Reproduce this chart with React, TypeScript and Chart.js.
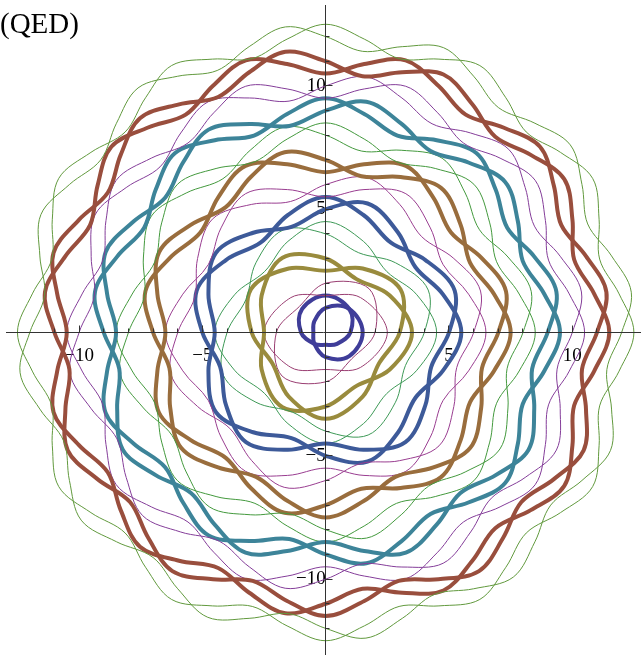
import React, { useEffect, useRef } from 'react';
import { Chart, registerables } from 'chart.js';

Chart.register(...registerables);

// ---- text ----
const TITLE = '(QED)';

// ---- axis ranges (units) and labelled ticks ----
const X_MIN = -12.964;
const X_MAX = 12.786;
const Y_MIN = -13.078;
const Y_MAX = 13.281;
const labelledTicks = [-10, -5, 5, 10];

// ---- orbit levels ----
const levels = [1, 2, 3, 4, 5, 6, 7, 8, 9, 10, 11, 12];

// radii read around each orbit, equally spaced in angle starting at +x, counter-clockwise
const r1a = [1.5, 1.35, 1, 0.65, 0.5, 0.65, 1, 1.35];
const r1b = [1, 1.35, 1.5, 1.35, 1, 0.65, 0.5, 0.65];
const r2a = [2.5, 2, 1.5, 2, 2.5, 2, 1.5, 2];
const r2b = [2, 2.5, 2, 1.5, 2, 2.5, 2, 1.5];
const r3a = [3.5, 3, 2.5, 3, 3.5, 3, 2.5, 3, 3.5, 3, 2.5, 3];
const r3b = [3, 3.5, 3, 2.5, 3, 3.5, 3, 2.5, 3, 3.5, 3, 2.5];
const r4a = [4.5, 4, 3.5, 4, 4.5, 4, 3.5, 4, 4.5, 4, 3.5, 4, 4.5, 4, 3.5, 4];
const r4b = [4, 4.5, 4, 3.5, 4, 4.5, 4, 3.5, 4, 4.5, 4, 3.5, 4, 4.5, 4, 3.5];
const r5a = [
  5.5, 5, 4.5, 5, 5.5, 5, 4.5, 5, 5.5, 5, 4.5, 5, 5.5, 5, 4.5, 5, 5.5, 5, 4.5, 5,
];
const r5b = [
  5, 5.5, 5, 4.5, 5, 5.5, 5, 4.5, 5, 5.5, 5, 4.5, 5, 5.5, 5, 4.5, 5, 5.5, 5, 4.5,
];
const r6a = [
  6.5, 6, 5.5, 6, 6.5, 6, 5.5, 6, 6.5, 6, 5.5, 6,
  6.5, 6, 5.5, 6, 6.5, 6, 5.5, 6, 6.5, 6, 5.5, 6,
];
const r6b = [
  6, 6.5, 6, 5.5, 6, 6.5, 6, 5.5, 6, 6.5, 6, 5.5,
  6, 6.5, 6, 5.5, 6, 6.5, 6, 5.5, 6, 6.5, 6, 5.5,
];
const r7a = [
  7.5, 7, 6.5, 7, 7.5, 7, 6.5, 7, 7.5, 7, 6.5, 7, 7.5, 7, 6.5, 7,
  7.5, 7, 6.5, 7, 7.5, 7, 6.5, 7, 7.5, 7, 6.5, 7,
];
const r7b = [
  7, 7.5, 7, 6.5, 7, 7.5, 7, 6.5, 7, 7.5, 7, 6.5, 7, 7.5, 7, 6.5,
  7, 7.5, 7, 6.5, 7, 7.5, 7, 6.5, 7, 7.5, 7, 6.5,
];
const r8a = [
  8.5, 8, 7.5, 8, 8.5, 8, 7.5, 8, 8.5, 8, 7.5, 8, 8.5, 8, 7.5, 8,
  8.5, 8, 7.5, 8, 8.5, 8, 7.5, 8, 8.5, 8, 7.5, 8, 8.5, 8, 7.5, 8,
];
const r8b = [
  8, 8.5, 8, 7.5, 8, 8.5, 8, 7.5, 8, 8.5, 8, 7.5, 8, 8.5, 8, 7.5,
  8, 8.5, 8, 7.5, 8, 8.5, 8, 7.5, 8, 8.5, 8, 7.5, 8, 8.5, 8, 7.5,
];
const r9a = [
  9.5, 9, 8.5, 9, 9.5, 9, 8.5, 9, 9.5, 9, 8.5, 9,
  9.5, 9, 8.5, 9, 9.5, 9, 8.5, 9, 9.5, 9, 8.5, 9,
  9.5, 9, 8.5, 9, 9.5, 9, 8.5, 9, 9.5, 9, 8.5, 9,
];
const r9b = [
  9, 9.5, 9, 8.5, 9, 9.5, 9, 8.5, 9, 9.5, 9, 8.5,
  9, 9.5, 9, 8.5, 9, 9.5, 9, 8.5, 9, 9.5, 9, 8.5,
  9, 9.5, 9, 8.5, 9, 9.5, 9, 8.5, 9, 9.5, 9, 8.5,
];
const r10a = [
  10.5, 10, 9.5, 10, 10.5, 10, 9.5, 10, 10.5, 10, 9.5, 10, 10.5, 10, 9.5, 10,
  10.5, 10, 9.5, 10, 10.5, 10, 9.5, 10, 10.5, 10, 9.5, 10, 10.5, 10, 9.5, 10,
  10.5, 10, 9.5, 10, 10.5, 10, 9.5, 10,
];
const r10b = [
  10, 10.5, 10, 9.5, 10, 10.5, 10, 9.5, 10, 10.5, 10, 9.5, 10, 10.5, 10, 9.5,
  10, 10.5, 10, 9.5, 10, 10.5, 10, 9.5, 10, 10.5, 10, 9.5, 10, 10.5, 10, 9.5,
  10, 10.5, 10, 9.5, 10, 10.5, 10, 9.5,
];
const r11a = [
  11.5, 11, 10.5, 11, 11.5, 11, 10.5, 11, 11.5, 11, 10.5, 11, 11.5, 11, 10.5, 11,
  11.5, 11, 10.5, 11, 11.5, 11, 10.5, 11, 11.5, 11, 10.5, 11, 11.5, 11, 10.5, 11,
  11.5, 11, 10.5, 11, 11.5, 11, 10.5, 11, 11.5, 11, 10.5, 11,
];
const r11b = [
  11, 11.5, 11, 10.5, 11, 11.5, 11, 10.5, 11, 11.5, 11, 10.5, 11, 11.5, 11, 10.5,
  11, 11.5, 11, 10.5, 11, 11.5, 11, 10.5, 11, 11.5, 11, 10.5, 11, 11.5, 11, 10.5,
  11, 11.5, 11, 10.5, 11, 11.5, 11, 10.5, 11, 11.5, 11, 10.5,
];
const r12a = [
  12.5, 12, 11.5, 12, 12.5, 12, 11.5, 12, 12.5, 12, 11.5, 12, 12.5, 12, 11.5, 12,
  12.5, 12, 11.5, 12, 12.5, 12, 11.5, 12, 12.5, 12, 11.5, 12, 12.5, 12, 11.5, 12,
  12.5, 12, 11.5, 12, 12.5, 12, 11.5, 12, 12.5, 12, 11.5, 12, 12.5, 12, 11.5, 12,
];
const r12b = [
  12, 12.5, 12, 11.5, 12, 12.5, 12, 11.5, 12, 12.5, 12, 11.5, 12, 12.5, 12, 11.5,
  12, 12.5, 12, 11.5, 12, 12.5, 12, 11.5, 12, 12.5, 12, 11.5, 12, 12.5, 12, 11.5,
  12, 12.5, 12, 11.5, 12, 12.5, 12, 11.5, 12, 12.5, 12, 11.5, 12, 12.5, 12, 11.5,
];

const strandsA = [r1a, r2a, r3a, r4a, r5a, r6a, r7a, r8a, r9a, r10a, r11a, r12a];
const strandsB = [r1b, r2b, r3b, r4b, r5b, r6b, r7b, r8b, r9b, r10b, r11b, r12b];

const levelColors = [
  'rgb(63,61,153)',
  'rgb(153,61,113)',
  'rgb(153,139,61)',
  'rgb(61,153,86)',
  'rgb(61,90,153)',
  'rgb(153,61,144)',
  'rgb(153,109,61)',
  'rgb(67,153,61)',
  'rgb(61,132,153)',
  'rgb(132,61,153)',
  'rgb(153,78,61)',
  'rgb(97,153,61)',
];

// ---- style ----
const THICK = 4;
const THIN = 1;
const AXIS_COLOR = '#333';
const FONT = '"Liberation Serif", "Times New Roman", serif';

function toPoints(radii: number[]) {
  const n = radii.length;
  return radii.map((r, k) => {
    const t = (2 * Math.PI * k) / n;
    return { x: r * Math.cos(t), y: r * Math.sin(t) };
  });
}

function fmt(v: number) {
  return v < 0 ? '\u2212' + Math.abs(v) : String(v);
}

const closeLoops = {
  id: 'closeLoops',
  afterDatasetUpdate(chart: any, args: any) {
    const line = args.meta && args.meta.dataset;
    if (!line) return;
    line._loop = true;
    line._fullLoop = true;
    line._pointsUpdated = false;
    delete line._segments;
    delete line._path;
    if (typeof line.updateControlPoints === 'function') {
      line.updateControlPoints(chart.chartArea, 'x');
    }
  },
};

const axesOnTop = {
  id: 'axesOnTop',
  afterDatasetsDraw(chart: any) {
    const ctx = chart.ctx;
    const xs = chart.scales.x;
    const ys = chart.scales.y;
    const ox = Math.round(xs.getPixelForValue(0) - 0.5) + 0.5;
    const oy = Math.round(ys.getPixelForValue(0) - 0.5) + 0.5;
    ctx.save();
    ctx.strokeStyle = AXIS_COLOR;
    ctx.lineWidth = 1;
    ctx.beginPath();
    ctx.moveTo(xs.left, oy);
    ctx.lineTo(xs.right, oy);
    ctx.moveTo(ox, ys.top);
    ctx.lineTo(ox, ys.bottom);
    xs.ticks.forEach((t: any) => {
      const v = t.value;
      if (v === 0 || !Number.isInteger(v)) return;
      const px = Math.round(xs.getPixelForValue(v) - 0.5) + 0.5;
      const len = v % 5 === 0 ? 7 : 4;
      ctx.moveTo(px, oy);
      ctx.lineTo(px, oy - len);
    });
    ys.ticks.forEach((t: any) => {
      const v = t.value;
      if (v === 0 || !Number.isInteger(v)) return;
      const py = Math.round(ys.getPixelForValue(v) - 0.5) + 0.5;
      const len = v % 5 === 0 ? 7 : 4;
      ctx.moveTo(ox, py);
      ctx.lineTo(ox + len, py);
    });
    ctx.stroke();
    ctx.restore();
  },
};

const titleText = {
  id: 'titleText',
  afterDraw(chart: any) {
    const ctx = chart.ctx;
    ctx.save();
    ctx.fillStyle = '#000';
    ctx.font = '29px ' + FONT;
    ctx.textAlign = 'left';
    ctx.textBaseline = 'alphabetic';
    ctx.fillText(TITLE, 0, 33);
    ctx.restore();
  },
};

function noScalePadding(scale: any) {
  scale.paddingLeft = 0;
  scale.paddingRight = 0;
  scale.paddingTop = 0;
  scale.paddingBottom = 0;
}

export default function App() {
  const ref = useRef<HTMLCanvasElement | null>(null);

  useEffect(() => {
    if (!ref.current) return;
    const datasets: any[] = [];
    levels.forEach((n, i) => {
      const width = n % 2 === 1 ? THICK : THIN;
      const tension = n === 1 ? 0.375 : 0.35;
      [strandsA[i], strandsB[i]].forEach((radii, s) => {
        datasets.push({
          label: 'n=' + n + (s === 0 ? 'a' : 'b'),
          data: toPoints(radii),
          showLine: true,
          borderColor: levelColors[i],
          backgroundColor: levelColors[i],
          borderWidth: width,
          pointRadius: 0,
          pointHoverRadius: 0,
          tension,
          fill: false,
          borderJoinStyle: 'round',
          borderCapStyle: 'round',
          order: 2 * (12 - n) + (s === 0 ? 1 : 0),
          clip: false,
        });
      });
    });

    const tickFont = { family: FONT, size: 19 };
    const chart = new Chart(ref.current, {
      type: 'scatter',
      data: { datasets },
      options: {
        responsive: false,
        animation: false,
        devicePixelRatio: 1,
        events: [],
        layout: { autoPadding: false, padding: { left: 6, top: 5, right: 0, bottom: 5 } },
        plugins: {
          legend: { display: false },
          tooltip: { enabled: false },
          title: { display: false },
        },
        scales: {
          x: {
            type: 'linear',
            position: { y: 0 },
            min: X_MIN,
            max: X_MAX,
            afterFit: noScalePadding,
            grid: { display: false },
            border: { display: false },
            ticks: {
              stepSize: 1,
              autoSkip: false,
              maxRotation: 0,
              minRotation: 0,
              padding: 4,
              color: '#000',
              font: tickFont,
              callback: (v: any) => (labelledTicks.includes(Number(v)) ? fmt(Number(v)) : ''),
            },
          },
          y: {
            type: 'linear',
            position: { x: 0 },
            min: Y_MIN,
            max: Y_MAX,
            afterFit: noScalePadding,
            grid: { display: false },
            border: { display: false },
            ticks: {
              stepSize: 1,
              autoSkip: false,
              padding: 8,
              color: '#000',
              font: tickFont,
              callback: (v: any) => (labelledTicks.includes(Number(v)) ? fmt(Number(v)) : ''),
            },
          },
        },
      } as any,
      plugins: [closeLoops, axesOnTop, titleText],
    });
    return () => chart.destroy();
  }, []);

  return (
    <canvas
      ref={ref}
      width={641}
      height={660}
      style={{ position: 'absolute', left: 0, top: 0, width: 641, height: 660 }}
    />
  );
}
